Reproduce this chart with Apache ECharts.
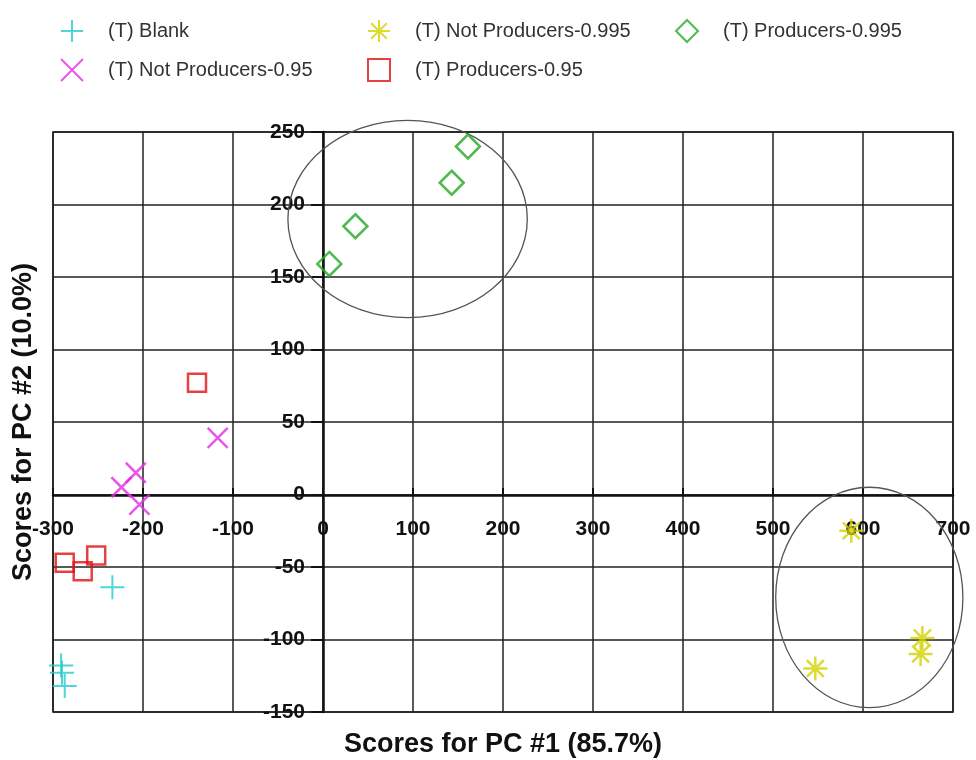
<!DOCTYPE html>
<html>
<head>
<meta charset="utf-8">
<script src="https://cdn.jsdelivr.net/npm/echarts@6/dist/echarts.min.js"></script>
<style>
html, body { margin: 0; padding: 0; background: #fff; }
#chart { width: 976px; height: 760px; }
</style>
</head>
<body>
<div id="chart"></div>
<script>
// PCA scores: [PC1, PC2]
var blank = [[-234, -64], [-291, -118], [-290, -123], [-287, -132]];
var notProd095 = [[-117, 39], [-208, 15], [-224, 5], [-204, -7]];
var notProd0995 = [[587, -25], [547, -120], [666, -99], [664, -110]];
var prod095 = [[-140, 77], [-287, -47], [-267, -53], [-252, -42]];
var prod0995 = [[7, 159], [36, 185], [143, 215], [161, 240]];

// confidence ellipses: [centerX, centerY, radiusX, radiusY] in data units
var ellipses = [[94, 190, 133, 68], [607, -71, 104, 76]];

var xTicks = { min: -300, max: 700, step: 100 };
var yTicks = { min: -150, max: 250, step: 50 };

var font = 'Arial, "Liberation Sans", sans-serif';

var plusPath = 'path://M0,-10L0,10M-10,0L10,0';
var crossPath = 'path://M-10,-10L10,10M-10,10L10,-10';
var starPath = 'path://M0,-10L0,10M-10,0L10,0M-7.07,-7.07L7.07,7.07M-7.07,7.07L7.07,-7.07';

function hollow(color, w) {
    return { color: 'rgba(0,0,0,0)', borderColor: color, borderWidth: w };
}

var chart = echarts.init(document.getElementById('chart'));

var legendText = { fontFamily: font, fontSize: 20, color: '#333', lineHeight: 20, padding: [0, 0, 0, 20] };

function legendAt(left, names) {
    return {
        orient: 'vertical', left: left, top: 14, itemGap: 15,
        itemWidth: 22, itemHeight: 22,
        textStyle: legendText,
        data: names
    };
}

// the axes cross at the origin; offsets move them there from the grid edges
var plot = { left: 53, right: 23, top: 132, bottom: 48 };
var xAxisShift = -217;  // from bottom edge up to y = 0
var yAxisShift = -270;  // from left edge right to x = 0

var option = {
    animation: false,
    backgroundColor: '#fff',
    legend: [
        legendAt(55, ['(T) Blank', '(T) Not Producers-0.95']),
        legendAt(362, ['(T) Not Producers-0.995', '(T) Producers-0.95']),
        legendAt(670, ['(T) Producers-0.995'])
    ],
    grid: {
        left: plot.left, right: plot.right, top: plot.top, bottom: plot.bottom,
        outerBoundsMode: 'none',
        containLabel: false,
        show: true, borderColor: '#111', borderWidth: 1.5
    },
    xAxis: {
        type: 'value',
        min: xTicks.min, max: xTicks.max, interval: xTicks.step,
        offset: xAxisShift,
        name: 'Scores for PC #1 (85.7%)',
        nameLocation: 'middle',
        nameGap: 236,
        nameTextStyle: { fontFamily: font, fontSize: 27, fontWeight: 'bold', color: '#111' },
        axisLine: { onZero: false, lineStyle: { color: '#111', width: 2.5 } },
        axisTick: { show: true, length: 7, inside: true, lineStyle: { color: '#111', width: 2 } },
        axisLabel: { fontFamily: font, fontSize: 21, fontWeight: 'bold', color: '#111', margin: 24 },
        splitLine: { show: true, lineStyle: { color: '#222', width: 1.5 } }
    },
    yAxis: {
        type: 'value',
        min: yTicks.min, max: yTicks.max, interval: yTicks.step,
        offset: yAxisShift,
        name: 'Scores for PC #2 (10.0%)',
        nameLocation: 'middle',
        nameRotate: 90,
        nameGap: 286,
        nameTextStyle: { fontFamily: font, fontSize: 27, fontWeight: 'bold', color: '#111' },
        axisLine: { onZero: false, lineStyle: { color: '#111', width: 2.5 } },
        axisTick: { show: true, length: 12, lineStyle: { color: '#111', width: 2 } },
        axisLabel: { fontFamily: font, fontSize: 21, fontWeight: 'bold', color: '#111', margin: 18 },
        splitLine: { show: true, lineStyle: { color: '#222', width: 1.5 } }
    },
    series: [{
        name: '(T) Blank', type: 'scatter', symbol: plusPath, symbolSize: 24,
        itemStyle: hollow('#22cccc', 2),
        data: blank
    }, {
        name: '(T) Not Producers-0.95', type: 'scatter', symbol: crossPath, symbolSize: 20,
        itemStyle: hollow('#e22ee2', 2.5),
        data: notProd095
    }, {
        name: '(T) Not Producers-0.995', type: 'scatter', symbol: starPath, symbolSize: 24,
        itemStyle: hollow('#d2d200', 2.5),
        data: notProd0995
    }, {
        name: '(T) Producers-0.95', type: 'scatter', symbol: 'rect', symbolSize: 18,
        itemStyle: hollow('#e01212', 2.5),
        data: prod095
    }, {
        name: '(T) Producers-0.995', type: 'scatter', symbol: 'diamond', symbolSize: 24,
        itemStyle: hollow('#22a822', 2.5),
        data: prod0995
    }, {
        type: 'custom',
        silent: true,
        clip: false,
        data: ellipses,
        renderItem: function (params, api) {
            var c = api.coord([api.value(0), api.value(1)]);
            var e = api.coord([api.value(0) + api.value(2), api.value(1) + api.value(3)]);
            return {
                type: 'ellipse',
                shape: { cx: c[0], cy: c[1], rx: Math.abs(e[0] - c[0]), ry: Math.abs(c[1] - e[1]) },
                style: { fill: null, stroke: '#555', lineWidth: 1.3 }
            };
        }
    }]
};

chart.setOption(option);
</script>
</body>
</html>
